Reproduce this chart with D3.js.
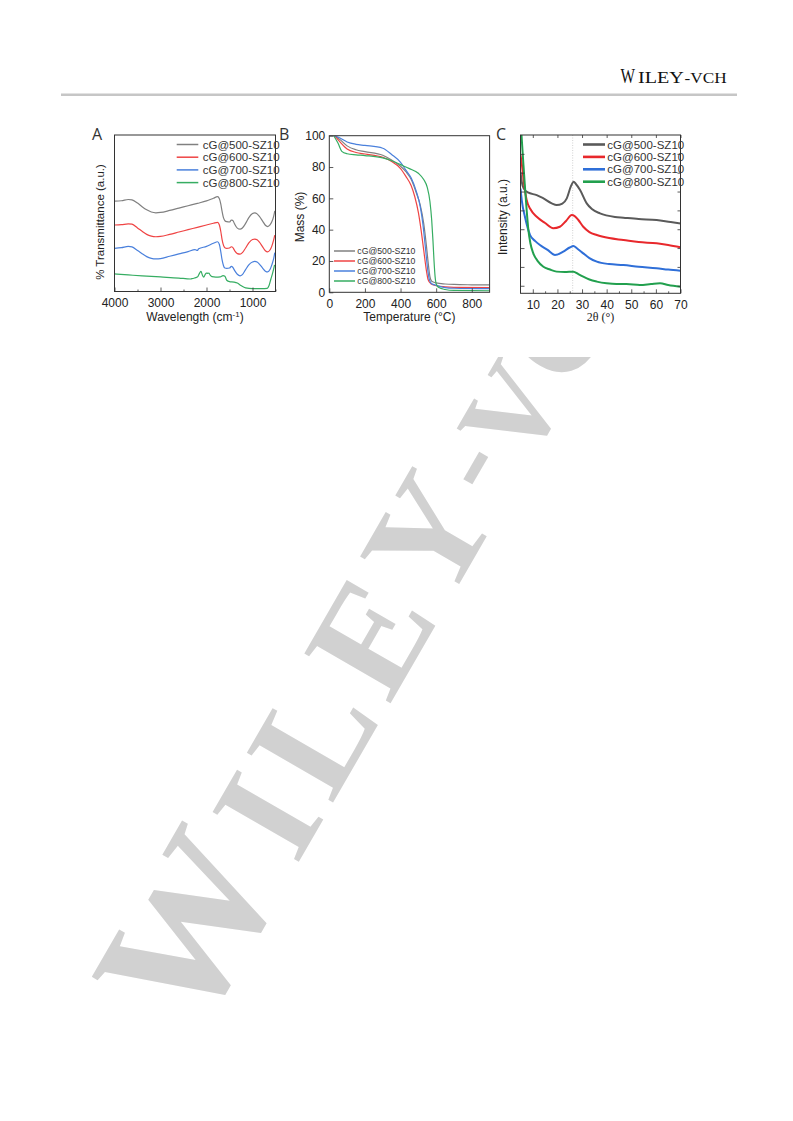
<!DOCTYPE html>
<html>
<head>
<meta charset="utf-8">
<script src="https://cdn.jsdelivr.net/npm/d3@7/dist/d3.min.js"></script>
<style>
html,body{margin:0;padding:0;background:#fff;}
svg{display:block;}
</style>
</head>
<body>
<svg id="page" width="793" height="1121" xmlns="http://www.w3.org/2000/svg"></svg>
<script>
// ================= DATA =================
const seriesNames = ["cG@500-SZ10", "cG@600-SZ10", "cG@700-SZ10", "cG@800-SZ10"];
const seriesColors = ["#808080", "#ef4444", "#4a80dc", "#36ad62"];
const seriesColorsC = ["#5a5a5a", "#e8282c", "#2f6fd8", "#22a04e"];

// Panel A – FTIR (wavenumber cm-1, transmittance a.u.)
const irTicksMajor = [4000, 3000, 2000, 1000];
const irTicksMinor = [3500, 2500, 1500, 500];
const ir500 = [[4000,57.8],[3850,58.0],[3700,58.8],[3620,58.6],[3500,56.5],[3400,54.2],[3300,52.2],[3200,50.8],[3100,50.3],[3000,50.5],[2800,51.8],[2600,53.3],[2400,54.8],[2200,56.3],[2000,57.9],[1850,59.6],[1760,60.6],[1720,59.3],[1690,56],[1660,51],[1630,47],[1600,45.2],[1560,44.6],[1500,44.4],[1460,45.6],[1430,45.5],[1390,43.2],[1330,40.5],[1270,39.8],[1220,40.6],[1150,43.5],[1080,47.2],[1000,49.8],[950,50.3],[900,49.6],[850,48],[780,45],[720,42.3],[670,41.5],[620,42.5],[580,44.5],[540,48],[515,51.5]];
const ir600 = [[4000,42.5],[3850,42.7],[3700,43.2],[3620,43],[3500,40.6],[3400,38.5],[3300,36.5],[3200,35.4],[3100,35],[3000,35.2],[2800,36.5],[2600,38],[2400,39.5],[2200,41],[2000,42.5],[1850,43.6],[1760,44.2],[1720,42.5],[1690,38.5],[1660,33],[1630,29.5],[1600,28],[1560,27.6],[1500,27.8],[1460,28.6],[1430,28.2],[1390,26.2],[1330,24.2],[1270,23.9],[1220,24.8],[1150,27.8],[1080,31],[1000,33.2],[950,33.5],[900,33],[850,31.5],[780,28.5],[720,26],[670,25.3],[620,26.5],[580,29],[540,33],[515,36]];
const ir700 = [[4000,27.6],[3850,28],[3700,28.8],[3620,28.5],[3500,26.2],[3400,24.2],[3300,22.3],[3200,21.2],[3100,20.8],[3000,21],[2800,22.5],[2600,24],[2400,25.5],[2250,26.8],[2200,26.2],[2170,27.3],[2000,28.8],[1850,30.8],[1760,31.8],[1720,30],[1690,25.5],[1660,20],[1630,16.5],[1600,15],[1560,14.8],[1500,15],[1460,16],[1430,15.5],[1390,13.5],[1330,11],[1270,10],[1220,10.8],[1150,14],[1080,17],[1000,18.8],[950,19.2],[900,18.8],[850,17.5],[780,15],[720,13],[670,12.5],[620,14],[580,17],[540,21],[515,24.8]];
const ir800 = [[4000,11.2],[3700,10.6],[3400,10],[3000,9.3],[2600,8.6],[2350,8.0],[2300,8.3],[2200,9.2],[2150,11.8],[2120,12.8],[2090,10.5],[2060,9.2],[2030,10.8],[2000,11.8],[1970,11.6],[1950,11.7],[1920,10.5],[1880,9.5],[1800,9.2],[1700,9.4],[1640,10.2],[1600,9.8],[1560,7.2],[1500,6.3],[1400,6],[1330,5.4],[1250,3.8],[1150,2.3],[1000,1.8],[800,1.8],[680,2],[640,3.8],[600,8],[560,12],[520,17]];

// Panel B – TGA (temperature °C, mass %)
const tgaTicksMajorX = [0, 200, 400, 600, 800];
const tgaTicksMajorY = [0, 20, 40, 60, 80, 100];
const tga500 = [[30,100],[60,97.5],[100,93.5],[150,91],[200,89.8],[300,87.5],[350,84.5],[400,80.5],[430,77],[460,72],[490,63],[510,56],[530,44],[545,30],[555,19],[565,10],[575,7],[600,6],[650,5.3],[700,5],[800,4.8],[900,4.7]];
const tga600 = [[30,100],[60,96],[100,91.5],[150,89.3],[200,88.3],[300,86.2],[350,83.5],[400,79],[430,74],[460,68],[480,61],[500,51],[515,40],[530,27],[545,14],[555,8],[570,5.5],[600,4.2],[650,3.5],[700,3.2],[900,3]];
const tga700 = [[30,100],[60,98.5],[100,96],[150,94.5],[200,93.8],[300,92],[350,88],[400,83],[430,78],[460,73],[490,64],[510,55],[525,44],[540,28],[552,15],[562,8],[575,5.5],[600,4.5],[650,3],[700,2.6],[900,2.3]];
const tga800 = [[25,100],[50,95],[70,90],[100,88.5],[150,87.8],[200,87.3],[300,85.8],[350,84],[400,81.5],[450,79],[500,76],[530,72],[550,67],[565,58],[575,46],[582,33],[588,20],[594,10],[600,5.5],[615,3],[650,1.8],[700,1.2],[900,1]];

// Panel C – XRD (2θ °, intensity a.u.)
const xrdTicksMajor = [10, 20, 30, 40, 50, 60, 70];
const xrdTicksMinor = [15, 25, 35, 45, 55, 65];
const xrdTicksY = [0, 10, 20, 30, 40, 50, 60, 70];
const xrdPeakLine = [26.2];
const xrd500 = [[5,60.4],[5.5,55.2],[6.3,51.7],[8,49.5],[11.6,48.1],[14,46.6],[17.7,43.7],[19.7,42.8],[22,43.6],[23.8,46.4],[25.5,52.9],[26.6,55.2],[27.5,54],[29.2,50.8],[31.9,43.7],[34,40.7],[37.3,38.4],[43.4,36.5],[46.8,36.1],[53,35.4],[60.3,34.9],[66,33.8],[70,33.1]];
const xrd600 = [[5,69.4],[5.5,65],[6.5,53.5],[7.5,45.5],[9,40.7],[11.6,36.6],[15,33.3],[18.3,30.5],[21,31.3],[23.5,34.4],[25.8,37.5],[27,37],[28.5,34.9],[30.5,31.3],[33,28.5],[36,26.9],[41,25.3],[46.8,24.3],[53,23.2],[60.3,22.5],[65,21.6],[70,20.4]];
const xrd700 = [[5,51.5],[5.5,45.5],[6.8,36.6],[8.9,26.9],[11,23.7],[12.9,21.6],[16,19],[19,16.3],[22.4,18.1],[25,20.3],[26.5,21.1],[28,19.8],[30.5,17.2],[33,14.7],[36,12.8],[41,11.5],[46.8,11],[53,10.1],[60.3,9.3],[65,8.6],[70,8]];
const xrd800 = [[5.4,80],[6.2,64.1],[6.8,52.6],[7.5,40.2],[8.2,29.6],[9,22.7],[10.2,17.2],[12,13.1],[14.3,10.1],[17,8.6],[19.7,7.5],[23,7.3],[26.5,7.5],[28.5,6.2],[30.5,4.8],[33,3.3],[36,2.2],[40,1.3],[44,0.9],[48,0.9],[53.5,0.4],[58,0.9],[61.7,1.3],[65,0.4],[70,-0.5]];

// ================= DRAWING =================
const svg = d3.select("#page");
const SANS = "'Liberation Sans', Arial, Helvetica, sans-serif";
const SERIF = "'Liberation Serif', 'Times New Roman', serif";
const defs = svg.append("defs");

// ---- watermark ----
defs.append("clipPath").attr("id", "wmclip")
  .append("rect").attr("x", 0).attr("y", 357).attr("width", 793).attr("height", 764);
const wm = svg.append("g").attr("clip-path", "url(#wmclip)")
  .append("text")
  .attr("transform", "translate(196,1040) rotate(-60)")
  .attr("font-family", SERIF).attr("font-weight", "bold").attr("fill", "#d1d1d1");
[["W", 0, 0, 186], ["I", 200.7, 0, 152], ["L", 271.6, 0, 152], ["E", 386.4, 0, 152], ["Y", 498.2, 0, 152],
 ["-", 614.8, -15, 122], ["V", 658.6, 0, 122], ["C", 750, 0, 122], ["H", 840, 0, 122]]
  .forEach(([t, x, y, s]) => wm.append("tspan").attr("x", x).attr("y", y).attr("font-size", s).text(t));

// ---- header ----
svg.append("text").attr("x", 620.5).attr("y", 82.7).attr("font-family", SERIF).attr("font-size", 21)
  .attr("fill", "#111").attr("textLength", 14.5).attr("lengthAdjust", "spacingAndGlyphs").text("W");
svg.append("text").attr("x", 638).attr("y", 82.7).attr("font-family", SERIF).attr("font-size", 17.5)
  .attr("fill", "#111").attr("textLength", 45.8).attr("lengthAdjust", "spacingAndGlyphs").text("ILEY");
svg.append("text").attr("x", 684.5).attr("y", 82.7).attr("font-family", SERIF).attr("font-size", 15.5)
  .attr("fill", "#111").attr("textLength", 42.2).attr("lengthAdjust", "spacingAndGlyphs").text("-VCH");
svg.append("rect").attr("x", 61).attr("y", 93.5).attr("width", 676).attr("height", 2.5).attr("fill", "#c6c6c6");

// ---- generic panel ----
function panel(o) {
  const g = svg.append("g");
  const x = d3.scaleLinear().domain(o.xDomain).range([o.left, o.right]);
  const y = d3.scaleLinear().domain(o.yDomain).range([o.bottom, o.top]);
  const cid = "clip" + o.id;
  defs.append("clipPath").attr("id", cid).append("rect")
    .attr("x", o.left).attr("y", o.top).attr("width", o.right - o.left).attr("height", o.bottom - o.top);

  if (o.vline) {
    o.vline.forEach(v => g.append("line").attr("x1", x(v)).attr("x2", x(v)).attr("y1", o.top).attr("y2", o.bottom)
      .attr("stroke", "#c8c8c8").attr("stroke-width", 0.8).attr("stroke-dasharray", "1,1.5"));
  }

  const line = d3.line().x(d => x(d[0])).y(d => y(d[1])).curve(d3.curveMonotoneX);
  const lg = g.append("g").attr("clip-path", `url(#${cid})`);
  o.series.forEach((s, i) => {
    lg.append("path").datum(s).attr("d", line).attr("fill", "none")
      .attr("stroke", o.colors[i]).attr("stroke-width", o.lw).attr("stroke-linejoin", "round");
  });

  const xa = d3.axisBottom(x).tickValues(o.xMajor).tickSize(-4).tickPadding(7).tickFormat(d3.format("d"));
  g.append("g").attr("transform", `translate(0,${o.bottom})`).call(xa);
  if (o.xMinor) {
    g.append("g").attr("transform", `translate(0,${o.bottom})`)
      .call(d3.axisBottom(x).tickValues(o.xMinor).tickSize(-2).tickFormat(""));
  }
  if (o.mirror) {
    g.append("g").attr("transform", `translate(0,${o.top})`)
      .call(d3.axisTop(x).tickValues(o.xMajor).tickSize(-3).tickFormat(""));
  }
  if (o.yMajor) {
    const ya = d3.axisLeft(y).tickValues(o.yMajor).tickSize(-4).tickPadding(4);
    if (!o.yLabels) ya.tickFormat("");
    g.append("g").attr("transform", `translate(${o.left},0)`).call(ya);
    if (o.mirror) {
      g.append("g").attr("transform", `translate(${o.right},0)`)
        .call(d3.axisRight(y).tickValues(o.yMajor).tickSize(-3).tickFormat(""));
    }
  }
  g.selectAll(".domain").remove();
  g.selectAll(".tick line").attr("stroke", "#333").attr("stroke-width", 0.8);
  g.selectAll(".tick text").attr("font-family", SANS).attr("font-size", 12).attr("fill", "#222");

  g.append("rect").attr("x", o.left).attr("y", o.top).attr("width", o.right - o.left).attr("height", o.bottom - o.top)
    .attr("fill", "none").attr("stroke", "#333").attr("stroke-width", 1);

  g.append("text").attr("x", (o.left + o.right) / 2).attr("y", 321).attr("text-anchor", "middle")
    .attr("font-family", o.xTitleSerif ? SERIF : SANS).attr("font-size", 12).attr("fill", "#222")
    .html(o.xTitle);
  g.append("text").attr("transform", `translate(${o.yTitleX},${o.yTitleY}) rotate(-90)`).attr("text-anchor", "middle")
    .attr("font-family", SANS).attr("font-size", o.yTitleSize || 12).attr("fill", "#222").text(o.yTitle);
  g.append("text").attr("x", o.letterX).attr("y", 140).attr("font-family", "'Open Sans', sans-serif")
    .attr("font-size", 16).attr("fill", "#333").text(o.letter);

  const L = o.legend;
  seriesNames.forEach((n, i) => {
    const yy = L.y0 + i * L.dy;
    g.append("line").attr("x1", L.x0).attr("x2", L.x1).attr("y1", yy).attr("y2", yy)
      .attr("stroke", o.colors[i]).attr("stroke-width", L.lw);
    g.append("text").attr("x", L.tx).attr("y", yy).attr("dy", "0.35em").attr("font-family", SANS)
      .attr("font-size", L.fs).attr("fill", "#333").text(n);
  });
}

panel({
  id: "A", letter: "A", letterX: 92,
  left: 114.5, right: 275.5, top: 135, bottom: 291.5,
  xDomain: [4000, 500], yDomain: [0, 100],
  xMajor: irTicksMajor, xMinor: irTicksMinor,
  series: [ir500, ir600, ir700, ir800], colors: seriesColors, lw: 1.2,
  xTitle: 'Wavelength (cm<tspan dy="-4" font-size="8">-1</tspan><tspan dy="4">)</tspan>',
  yTitle: "% Transmittance (a.u.)", yTitleX: 104, yTitleY: 222, yTitleSize: 11.5,
  legend: {x0: 176.7, x1: 198.3, tx: 202.7, y0: 144.5, dy: 12.7, fs: 11.5, lw: 1.5}
});

panel({
  id: "B", letter: "B", letterX: 279,
  left: 329.3, right: 489.6, top: 135.7, bottom: 292.3,
  xDomain: [0, 900], yDomain: [0, 100],
  xMajor: tgaTicksMajorX, yMajor: tgaTicksMajorY, yLabels: true,
  series: [tga500, tga600, tga700, tga800], colors: seriesColors, lw: 1.2,
  xTitle: "Temperature (°C)",
  yTitle: "Mass (%)", yTitleX: 304, yTitleY: 217,
  legend: {x0: 334, x1: 355, tx: 357.3, y0: 251, dy: 10, fs: 8.7, lw: 1.5}
});

panel({
  id: "C", letter: "C", letterX: 496,
  left: 520.5, right: 680.5, top: 135, bottom: 293.3,
  xDomain: [5, 70], yDomain: [-4, 80],
  xMajor: xrdTicksMajor, xMinor: xrdTicksMinor, yMajor: xrdTicksY, yLabels: false,
  mirror: true, vline: xrdPeakLine,
  series: [xrd500, xrd600, xrd700, xrd800], colors: seriesColorsC, lw: 2,
  xTitle: "2θ (°)", xTitleSerif: true,
  yTitle: "Intensity (a.u.)", yTitleX: 507, yTitleY: 217,
  legend: {x0: 583, x1: 605, tx: 607.3, y0: 144.5, dy: 12.4, fs: 11.5, lw: 2.6}
});
</script>
</body>
</html>
